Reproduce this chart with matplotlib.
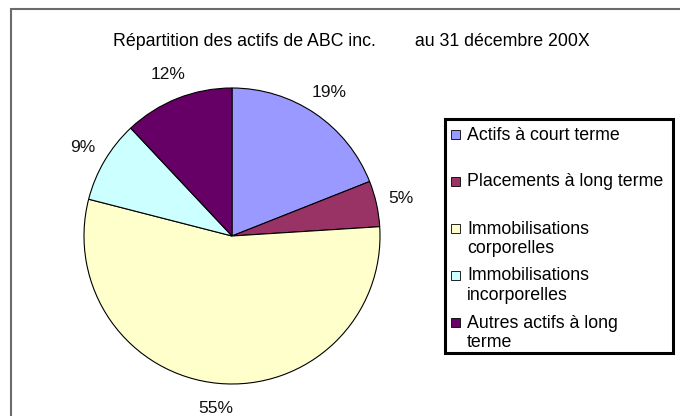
import matplotlib
matplotlib.use("Agg")
import matplotlib.pyplot as plt
from matplotlib.patches import Rectangle

plt.rcParams['font.family'] = ['Liberation Sans', 'DejaVu Sans']

# data
categories = ["Actifs à court terme", "Placements à long terme",
              "Immobilisations\ncorporelles", "Immobilisations\nincorporelles",
              "Autres actifs à long\nterme"]
shares = [19, 5, 55, 9, 12]
colors = ['#9999FF', '#993366', '#FFFFCC', '#CCFFFF', '#660066']
title = "Répartition des actifs de ABC inc.        au 31 décembre 200X"

W, H = 680, 416
fig = plt.figure(figsize=(W / 100, H / 100), dpi=100)

# pie: center (232,236) px, radius 148 px
R = 148
cx, cy = 232, 236
lim = 1.3
side = 2 * lim * R
ax = fig.add_axes([(cx - side / 2) / W, (H - cy - side / 2) / H, side / W, side / H])
wedges, texts, autotexts = ax.pie(shares, colors=colors, startangle=90, counterclock=False,
                                  autopct='%d%%', pctdistance=1.17,
                                  wedgeprops=dict(edgecolor='black', linewidth=0.8))
for t in autotexts:
    t.set_fontsize(12.5)
    t.set_color('#111111')
ax.set_xlim(-lim, lim)
ax.set_ylim(-lim, lim)
ax.set_aspect('equal')

# overlay in pixel coords for frame, title and legend
ov = fig.add_axes([0, 0, 1, 1], zorder=-1)
ov.set_xlim(0, W)
ov.set_ylim(H, 0)
ov.axis('off')

ov.plot([10.5, 10.5, W + 5], [H + 5, 9, 9], color='#6b6b6b', lw=1.5, solid_joinstyle='miter')
ov.text(351, 41, title, ha='center', va='center', fontsize=12.8)

# legend
leg = Rectangle((444.5, 118.5), 228, 234, facecolor='white', edgecolor='black', lw=2.2)
ov.add_patch(leg)
y0, step = 134, 47
for i, (lab, col) in enumerate(zip(categories, colors)):
    y = y0 + i * step
    ov.add_patch(Rectangle((451, y - 4.5), 9, 9, facecolor=col, edgecolor='black', lw=0.6))
    ov.text(467, y - 7.5, lab, ha='left', va='top', fontsize=12.8, linespacing=1.17)

fig.savefig('out.png', dpi=100)
